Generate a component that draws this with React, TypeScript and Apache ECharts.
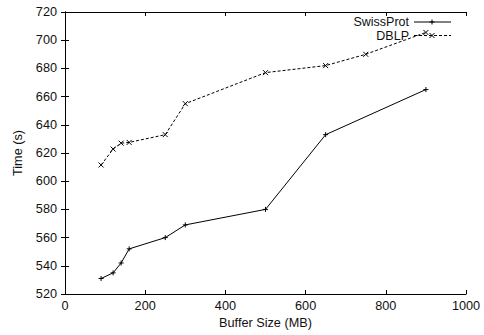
import React, { useEffect, useRef } from "react";
import * as echarts from "echarts";

const bufferSizes = [90, 120, 140, 160, 250, 300, 500, 650, 900];
const swissProt = [531, 535, 542, 552, 560, 569, 580, 633, 665];
const dblpSizes = [90, 120, 140, 160, 250, 300, 500, 650, 750, 900];
const dblp = [611.5, 622.8, 627, 627.5, 633, 655, 677, 682, 690, 705.5];
const seriesNames = ["SwissProt", "DBLP"];

const FONT = "Liberation Sans, Arial, Helvetica, sans-serif";
const FS = 12.7;
const PLUS = "path://M0,5L10,5M5,0L5,10";
const CROSS = "path://M0,0L10,10M10,0L0,10";

export default function App() {
  const ref = useRef<HTMLDivElement>(null);
  useEffect(() => {
    document.body.style.margin = "0";
    const chart = echarts.init(ref.current!, null, { renderer: "svg" });
    const tickStyle = { inside: true, length: 4, lineStyle: { color: "#000", width: 1 } };
    const lbl = { color: "#111", fontSize: FS, fontFamily: FONT };
    const stroke = { stroke: "#000", lineWidth: 1 };

    const legendRow = (name: string, y: number, dashed: boolean, plus: boolean) => {
      const mx = 432;
      const s = 2.5;
      const marks = plus
        ? [
            { type: "line", shape: { x1: mx - s, y1: y, x2: mx + s, y2: y }, style: stroke },
            { type: "line", shape: { x1: mx, y1: y - s, x2: mx, y2: y + s }, style: stroke },
          ]
        : [
            { type: "line", shape: { x1: mx - s, y1: y - s, x2: mx + s, y2: y + s }, style: stroke },
            { type: "line", shape: { x1: mx - s, y1: y + s, x2: mx + s, y2: y - s }, style: stroke },
          ];
      return [
        {
          type: "text",
          x: 409,
          y,
          style: {
            text: name,
            align: "right",
            verticalAlign: "middle",
            fill: "#111",
            fontSize: 12.5,
            fontFamily: FONT,
          },
        },
        {
          type: "line",
          shape: { x1: 414, y1: y, x2: 451, y2: y },
          style: { ...stroke, lineDash: dashed ? [3, 2] : null },
        },
        ...marks,
      ];
    };

    chart.setOption({
      animation: false,
      backgroundColor: "#fff",
      textStyle: { fontFamily: FONT },
      grid: { left: 65, right: 18, top: 12, bottom: 41 },
      graphic: [...legendRow(seriesNames[0], 22, false, true), ...legendRow(seriesNames[1], 35.5, true, false)],
      xAxis: [
        {
          type: "value",
          min: 0,
          max: 1000,
          interval: 200,
          name: "Buffer Size (MB)",
          nameLocation: "middle",
          nameGap: 22,
          nameTextStyle: lbl,
          axisLine: { show: true, lineStyle: { color: "#000", width: 1 } },
          axisTick: tickStyle,
          axisLabel: { ...lbl, margin: 5, formatter: (v: number) => String(v) },
          splitLine: { show: false },
        },
        {
          type: "value",
          position: "top",
          min: 0,
          max: 1000,
          interval: 200,
          axisLine: { show: true, lineStyle: { color: "#000", width: 1 } },
          axisTick: tickStyle,
          axisLabel: { show: false },
          splitLine: { show: false },
        },
      ],
      yAxis: [
        {
          type: "value",
          min: 520,
          max: 720,
          interval: 20,
          name: "Time (s)",
          nameLocation: "middle",
          nameGap: 39,
          nameTextStyle: lbl,
          axisLine: { show: true, lineStyle: { color: "#000", width: 1 } },
          axisTick: tickStyle,
          axisLabel: { ...lbl, margin: 8 },
          splitLine: { show: false },
        },
        {
          type: "value",
          position: "right",
          min: 520,
          max: 720,
          interval: 20,
          axisLine: { show: true, lineStyle: { color: "#000", width: 1 } },
          axisTick: tickStyle,
          axisLabel: { show: false },
          splitLine: { show: false },
        },
      ],
      series: [
        {
          name: seriesNames[0],
          type: "line",
          data: bufferSizes.map((x, i) => [x, swissProt[i]]),
          symbol: PLUS,
          symbolSize: 5,
          showSymbol: true,
          lineStyle: { color: "#000", width: 1 },
          itemStyle: { color: "#000", borderColor: "#000", borderWidth: 1 },
        },
        {
          name: seriesNames[1],
          type: "line",
          data: dblpSizes.map((x, i) => [x, dblp[i]]),
          symbol: CROSS,
          symbolSize: 5,
          showSymbol: true,
          lineStyle: { color: "#000", width: 1, type: [3, 2] },
          itemStyle: { color: "#000", borderColor: "#000", borderWidth: 1 },
        },
      ],
    });
    return () => chart.dispose();
  }, []);
  return <div ref={ref} style={{ width: 484, height: 335 }} />;
}
